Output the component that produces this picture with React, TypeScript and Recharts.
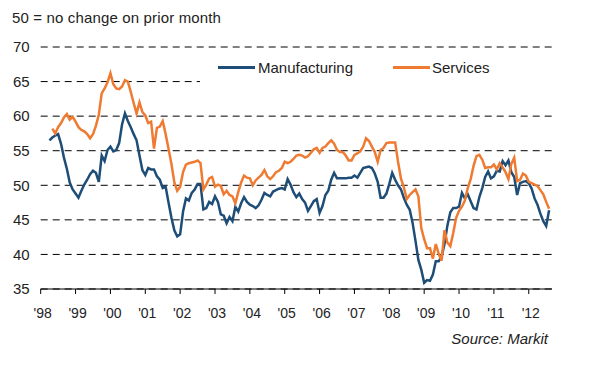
import React from 'react';
import { LineChart, Line, XAxis, YAxis, CartesianGrid } from 'recharts';

const FONT = '"Liberation Sans", Arial, Helvetica, sans-serif';

const yearLabels = ["'98", "'99", "'00", "'01", "'02", "'03", "'04", "'05", "'06", "'07", "'08", "'09", "'10", "'11", "'12"];
const yTicks = [35, 40, 45, 50, 55, 60, 65, 70];

// month index counted from Jan 1998
const manufacturingStart = 3;
const manufacturing = [
  56.5, 56.9, 57.2, 57.4, 56.0, 54.0, 52.4, 50.4, 49.4, 48.8,
  48.2, 49.2, 50.1, 50.8, 51.6, 52.1, 51.8, 50.5, 54.3, 53.5,
  55.1, 55.6, 54.9, 55.1, 56.1, 58.8, 60.4, 59.3, 58.4, 57.4,
  56.5, 54.3, 52.2, 51.5, 52.5, 52.3, 52.3, 51.3, 50.8, 49.6,
  49.8, 47.5, 45.3, 43.5, 42.6, 42.9, 46.2, 48.1, 47.8, 48.9,
  49.4, 50.2, 50.2, 46.5, 46.7, 47.6, 47.3, 48.4, 47.6, 45.8,
  45.6, 44.5, 45.4, 44.8, 46.9, 46.2, 47.4, 48.3, 47.6, 47.2,
  47.0, 46.7, 47.1, 47.9, 48.9, 48.6, 48.4, 49.1, 49.3, 49.5,
  49.6, 49.4, 50.9, 50.1, 49.0, 48.3, 48.8, 48.0, 47.5, 46.3,
  47.0, 47.7, 48.0, 46.0, 47.0, 48.6, 49.2, 50.8, 51.8, 51.0,
  51.0, 51.0, 51.0, 51.1, 51.1, 51.4, 51.1, 51.8, 52.5, 52.6,
  52.7, 52.5, 51.7, 50.5, 48.2, 48.2, 48.8, 50.2, 51.8, 50.8,
  50.0, 49.4, 48.2, 47.2, 46.5, 44.6, 42.0, 39.2, 37.8, 35.9,
  36.3, 36.2, 37.1, 39.0, 39.0, 39.7, 41.5, 44.2, 46.1, 46.7,
  46.7, 46.9, 48.9, 48.1, 48.7, 47.7, 46.7, 46.5, 48.3, 49.6,
  51.2, 52.0, 51.0, 51.3, 52.1, 52.0, 53.5, 52.9, 53.6, 51.9,
  51.2, 48.6, 50.3, 50.5, 50.6, 50.3, 49.5, 48.1, 47.2, 45.9,
  44.8, 44.1, 46.4,
];

const servicesStart = 4;
const services = [
  58.2, 57.5, 58.4, 59.0, 59.8, 60.3, 59.5, 59.9, 59.2, 58.4,
  58.0, 57.8, 57.4, 56.8, 57.4, 58.6, 60.2, 63.3, 64.0, 64.9,
  66.2, 64.6, 64.0, 63.9, 64.3, 65.2, 65.0, 63.5, 61.9, 60.4,
  62.0, 60.6, 60.1, 59.0, 59.2, 55.3, 58.3, 58.5, 59.3, 57.4,
  55.3, 53.1, 50.4, 49.2, 49.8, 51.9, 53.0, 53.2, 53.3, 53.4,
  53.6, 53.2, 49.4, 50.1, 51.0, 51.2, 49.8, 50.1, 49.9, 48.7,
  49.2, 48.6, 48.4, 47.4, 49.0, 50.4, 51.4, 51.1, 51.0, 50.0,
  50.7, 51.1, 51.5, 52.2, 51.3, 50.9, 51.3, 51.9, 52.1, 52.5,
  53.4, 53.2, 53.4, 53.8, 54.3, 54.4, 54.3, 54.0, 54.2, 54.7,
  55.2, 55.4, 54.7, 55.4, 55.6, 56.1, 56.5, 56.0, 55.1, 54.8,
  54.8, 54.3, 53.6, 53.6, 54.4, 54.6, 54.9, 55.6, 56.8, 56.4,
  55.6, 54.8, 53.4, 55.1, 55.4, 56.1, 56.2, 56.2, 56.2, 53.4,
  51.0, 49.7, 48.0, 48.6, 49.0, 49.4, 48.4, 43.8, 42.2, 40.9,
  40.9, 39.4, 41.5, 40.1, 39.1, 43.5, 41.7, 41.2, 43.1, 45.3,
  46.3, 46.9, 47.8, 49.6, 50.9, 52.8, 54.2, 54.4, 53.7, 52.5,
  52.6, 52.6, 53.0, 52.3, 53.2, 52.6, 51.9, 50.9, 53.1, 54.0,
  50.6, 50.8, 51.7, 51.4, 50.5, 50.3, 50.1, 49.9, 49.3, 48.7,
  47.6, 46.6,
];

const seriesNames = ['Manufacturing', 'Services'];
const seriesColors = ['#1E4D78', '#EF7A31'];

const lastMonth = Math.max(
  manufacturingStart + manufacturing.length - 1,
  servicesStart + services.length - 1
);

const data: { m: number; manufacturing: number | null; services: number | null }[] = [];
for (let m = Math.min(manufacturingStart, servicesStart); m <= lastMonth; m++) {
  const mi = m - manufacturingStart;
  const si = m - servicesStart;
  data.push({
    m,
    manufacturing: mi >= 0 && mi < manufacturing.length ? manufacturing[mi] : null,
    services: si >= 0 && si < services.length ? services[si] : null,
  });
}

const xTicks = yearLabels.map((_, i) => i * 12);

export default function App() {
  return (
    <div
      style={{
        position: 'absolute',
        left: 0,
        top: 0,
        width: 600,
        height: 375,
        background: '#fff',
        fontFamily: FONT,
        overflow: 'hidden',
      }}
    >
      <LineChart
        width={600}
        height={375}
        data={data}
        margin={{ top: 47, right: 48, left: 10, bottom: 56 }}
        style={{ fontFamily: FONT }}
      >
        <CartesianGrid vertical={false} stroke="#000" strokeDasharray="7 5" strokeWidth={1} />
        <XAxis
          dataKey="m"
          type="number"
          domain={[0, 176]}
          ticks={xTicks}
          interval={0}
          tickFormatter={(v: number) => yearLabels[Math.round(v / 12)]}
          height={30}
          stroke="#000"
          tickSize={5}
          tickMargin={14}
          tick={{ fill: '#222', fontSize: 14, fontFamily: FONT, dx: 2 }}
          allowDataOverflow
        />
        <YAxis
          domain={[35, 70]}
          ticks={yTicks}
          interval={0}
          width={30.7}
          axisLine={false}
          tickLine={false}
          tickSize={0}
          tickMargin={11}
          tick={{ fill: '#222', fontSize: 15, fontFamily: FONT }}
          allowDataOverflow
        />
        <Line
          type="linear"
          dataKey="manufacturing"
          name={seriesNames[0]}
          stroke={seriesColors[0]}
          strokeWidth={2.5}
          dot={false}
          activeDot={false}
          isAnimationActive={false}
        />
        <Line
          type="linear"
          dataKey="services"
          name={seriesNames[1]}
          stroke={seriesColors[1]}
          strokeWidth={2.5}
          dot={false}
          activeDot={false}
          isAnimationActive={false}
        />
      </LineChart>

      {/* subtitle */}
      <div
        style={{
          position: 'absolute',
          left: 12,
          top: 10,
          fontSize: 15,
          lineHeight: '15px',
          letterSpacing: '0.15px',
          color: '#222',
          whiteSpace: 'nowrap',
        }}
      >
        50 = no change on prior month
      </div>

      {/* legend */}
      <div
        style={{
          position: 'absolute',
          left: 200,
          top: 57,
          width: 352,
          height: 31,
          background: '#fff',
        }}
      >
        {[
          { x: 18, tx: 58 },
          { x: 193, tx: 232 },
        ].map((p, i) => (
          <React.Fragment key={i}>
            <div
              style={{
                position: 'absolute',
                left: p.x,
                top: 9,
                width: 37,
                height: 3,
                background: seriesColors[i],
              }}
            />
            <div
              style={{
                position: 'absolute',
                left: p.tx,
                top: 3,
                fontSize: 15,
                lineHeight: '15px',
                color: '#222',
                whiteSpace: 'nowrap',
              }}
            >
              {seriesNames[i]}
            </div>
          </React.Fragment>
        ))}
      </div>

      {/* source */}
      <div
        style={{
          position: 'absolute',
          left: 380,
          width: 168,
          top: 331,
          fontSize: 15,
          lineHeight: '15px',
          fontStyle: 'italic',
          color: '#222',
          textAlign: 'right',
          whiteSpace: 'nowrap',
        }}
      >
        Source: Markit
      </div>
    </div>
  );
}
